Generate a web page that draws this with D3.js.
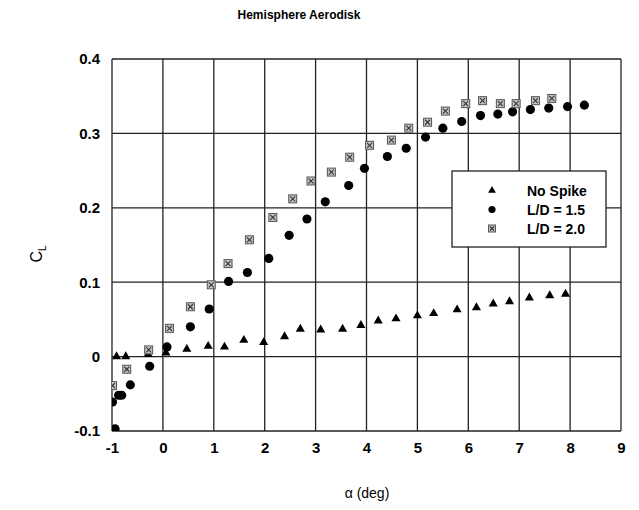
<!DOCTYPE html>
<html>
<head>
<meta charset="utf-8">
<script src="https://cdn.jsdelivr.net/npm/d3@7"></script>
<style>
  html, body { margin: 0; padding: 0; background: #fff; }
  svg { display: block; font-family: "Liberation Sans", Arial, sans-serif; }
</style>
</head>
<body>
<svg id="chart" width="639" height="510"></svg>
<script>
// Lift coefficient vs angle of attack for a hemisphere aerodisk
const xTicks = [-1, 0, 1, 2, 3, 4, 5, 6, 7, 8, 9];
const xTickLabels = ["-1", "0", "1", "2", "3", "4", "5", "6", "7", "8", "9"];
const yTicks = [-0.1, 0, 0.1, 0.2, 0.3, 0.4];
const yTickLabels = ["-0.1", "0", "0.1", "0.2", "0.3", "0.4"];

const noSpikeAlpha = [-0.91, -0.73, -0.29, 0.06, 0.47, 0.89, 1.21, 1.59, 1.98, 2.39, 2.70, 3.10, 3.53, 3.89, 4.23, 4.58, 5.00, 5.32, 5.78, 6.16, 6.49, 6.81, 7.20, 7.60, 7.91];
const noSpikeCL    = [0.000, 0.000, 0.003, 0.005, 0.010, 0.014, 0.013, 0.022, 0.019, 0.027, 0.037, 0.036, 0.037, 0.042, 0.048, 0.051, 0.055, 0.058, 0.063, 0.066, 0.071, 0.074, 0.079, 0.082, 0.084];

const ld15Alpha = [-0.94, -0.99, -0.87, -0.81, -0.64, -0.26, 0.08, 0.54, 0.91, 1.29, 1.66, 2.08, 2.48, 2.83, 3.19, 3.65, 3.96, 4.41, 4.78, 5.16, 5.50, 5.87, 6.24, 6.58, 6.87, 7.22, 7.58, 7.95, 8.28];
const ld15CL    = [-0.097, -0.061, -0.052, -0.052, -0.038, -0.013, 0.013, 0.040, 0.064, 0.101, 0.113, 0.132, 0.163, 0.185, 0.208, 0.230, 0.253, 0.269, 0.280, 0.295, 0.307, 0.316, 0.324, 0.326, 0.329, 0.332, 0.334, 0.336, 0.338];

const ld20Alpha = [-0.99, -0.71, -0.28, 0.13, 0.54, 0.95, 1.28, 1.70, 2.16, 2.55, 2.91, 3.31, 3.67, 4.06, 4.49, 4.83, 5.20, 5.55, 5.95, 6.28, 6.63, 6.94, 7.32, 7.64];
const ld20CL    = [-0.039, -0.017, 0.009, 0.038, 0.067, 0.0965, 0.125, 0.157, 0.187, 0.212, 0.236, 0.248, 0.268, 0.284, 0.291, 0.307, 0.315, 0.330, 0.340, 0.344, 0.340, 0.340, 0.344, 0.347];

const seriesNames = ["No Spike", "L/D = 1.5", "L/D = 2.0"];

const svg = d3.select("#chart");
const plot = { left: 112, right: 621, top: 59, bottom: 431 };

const x = d3.scaleLinear().domain([-1, 9]).range([plot.left, plot.right]);
const y = d3.scaleLinear().domain([-0.1, 0.4]).range([plot.bottom, plot.top]);

// title
svg.append("text")
  .attr("x", 299).attr("y", 19)
  .attr("text-anchor", "middle")
  .attr("font-size", 12).attr("font-weight", "bold")
  .text("Hemisphere Aerodisk");

// grid
const gridColor = "#222";
svg.append("g").selectAll("line").data(xTicks).join("line")
  .attr("x1", d => x(d)).attr("x2", d => x(d))
  .attr("y1", plot.top).attr("y2", plot.bottom)
  .attr("stroke", gridColor).attr("stroke-width", 1.3);
svg.append("g").selectAll("line").data(yTicks).join("line")
  .attr("y1", d => y(d)).attr("y2", d => y(d))
  .attr("x1", plot.left).attr("x2", plot.right)
  .attr("stroke", gridColor).attr("stroke-width", 1.3);

// axes (labels only; frame comes from the grid)
const xAxis = d3.axisBottom(x).tickValues(xTicks).tickSize(0).tickPadding(11)
  .tickFormat((d, i) => xTickLabels[i]);
const gx = svg.append("g").attr("transform", `translate(0,${plot.bottom})`).call(xAxis);
gx.select(".domain").remove();
gx.selectAll("text").attr("font-size", 15).attr("font-weight", "bold").attr("fill", "#000")
  .attr("font-family", "'Liberation Sans', Arial, sans-serif");

const yAxis = d3.axisLeft(y).tickValues(yTicks).tickSize(0).tickPadding(12)
  .tickFormat((d, i) => yTickLabels[i]);
const gy = svg.append("g").attr("transform", `translate(${plot.left},0)`).call(yAxis);
gy.select(".domain").remove();
gy.selectAll("text").attr("font-size", 15).attr("font-weight", "bold").attr("fill", "#000")
  .attr("font-family", "'Liberation Sans', Arial, sans-serif");

// axis titles
svg.append("text")
  .attr("x", 367).attr("y", 498)
  .attr("text-anchor", "middle")
  .attr("font-size", 14)
  .text("α (deg)");

const yTitle = svg.append("text")
  .attr("transform", "translate(42,254) rotate(-90)")
  .attr("text-anchor", "middle")
  .attr("font-size", 16);
yTitle.append("tspan").text("C");
yTitle.append("tspan").attr("font-size", 10).attr("dy", 4).text("L");

// clip for markers
svg.append("clipPath").attr("id", "plotClip")
  .append("rect")
  .attr("x", plot.left).attr("y", plot.top)
  .attr("width", plot.right - plot.left).attr("height", plot.bottom - plot.top);

const marks = svg.append("g").attr("clip-path", "url(#plotClip)");

const tri = d3.symbol().type(d3.symbolTriangle).size(36);
const circ = d3.symbol().type(d3.symbolCircle).size(66);

function drawBoxMarker(sel, s) {
  sel.append("rect")
    .attr("x", -s / 2).attr("y", -s / 2).attr("width", s).attr("height", s)
    .attr("fill", "#c4c4c4").attr("stroke", "#555").attr("stroke-width", 1);
  const k = s / 2 - 1.5;
  sel.append("path")
    .attr("d", `M${-k},${-k}L${k},${k}M${-k},${k}L${k},${-k}`)
    .attr("stroke", "#333").attr("stroke-width", 1.1).attr("fill", "none");
}

// No Spike
marks.append("g").selectAll("path").data(d3.zip(noSpikeAlpha, noSpikeCL)).join("path")
  .attr("d", tri)
  .attr("transform", d => `translate(${x(d[0])},${y(d[1])})`)
  .attr("fill", "#000");

// L/D = 1.5
marks.append("g").selectAll("path").data(d3.zip(ld15Alpha, ld15CL)).join("path")
  .attr("d", circ)
  .attr("transform", d => `translate(${x(d[0])},${y(d[1])})`)
  .attr("fill", "#000");

// L/D = 2.0
marks.append("g").selectAll("g").data(d3.zip(ld20Alpha, ld20CL)).join("g")
  .attr("transform", d => `translate(${x(d[0])},${y(d[1])})`)
  .each(function () { drawBoxMarker(d3.select(this), 8); });

// legend
const legend = svg.append("g");
legend.append("rect")
  .attr("x", 452).attr("y", 171).attr("width", 154).attr("height", 76)
  .attr("fill", "#fff").attr("stroke", "#222").attr("stroke-width", 1.3);
const rowY = [190.5, 209.5, 228.5];
seriesNames.forEach((name, i) => {
  const g = legend.append("g").attr("transform", `translate(492,${rowY[i]})`);
  if (i === 0) g.append("path").attr("d", d3.symbol().type(d3.symbolTriangle).size(26)).attr("fill", "#000");
  if (i === 1) g.append("path").attr("d", d3.symbol().type(d3.symbolCircle).size(40)).attr("fill", "#000");
  if (i === 2) drawBoxMarker(g, 7);
  legend.append("text")
    .attr("x", 527).attr("y", rowY[i] + 5)
    .attr("font-size", 14).attr("font-weight", "bold")
    .text(name);
});
</script>
</body>
</html>
